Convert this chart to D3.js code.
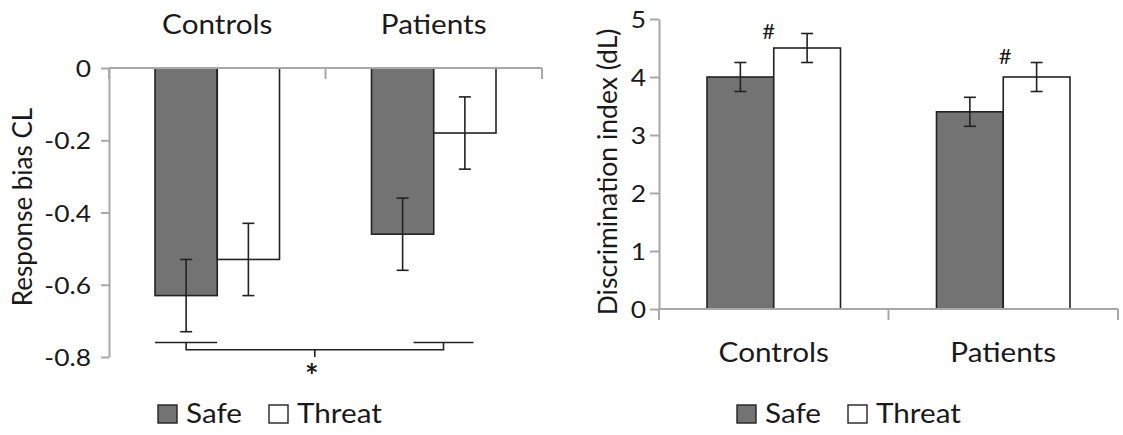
<!DOCTYPE html>
<html lang="en">
  <head>
    <meta charset="UTF-8" />
    <title>Response bias and discrimination index</title>
    <script src="https://cdn.jsdelivr.net/npm/d3@7"></script>
  </head>
  <body>
    <svg></svg>
    <style>
      body { margin: 0; background: #fff; }
      svg { display: block; }
      text { font-family: Lato, "Open Sans", sans-serif; fill: #1a1a1a; }
    </style>
    <script>
      // data
      const groups = ["Controls", "Patients"];
      const series = ["Safe", "Threat"];
      const biasSafe = [-0.63, -0.46];
      const biasThreat = [-0.53, -0.18];
      const biasErrSafe = [0.10, 0.10];
      const biasErrThreat = [0.10, 0.10];
      const biasTicks = [0, -0.2, -0.4, -0.6, -0.8];
      const dlSafe = [4.0, 3.4];
      const dlThreat = [4.5, 4.0];
      const dlErrSafe = [0.25, 0.25];
      const dlErrThreat = [0.25, 0.25];
      const dlTicks = [0, 1, 2, 3, 4, 5];
      const hashAt = [4.66, 4.22]; // "#" marks, in dL units
      const bracketAt = [-0.76, -0.78, -0.80]; // significance bracket levels

      const width = 1123, height = 435;
      const svg = d3.select("svg").attr("width", width).attr("height", height);
      const fillOf = { Safe: "#737373", Threat: "#ffffff" };
      const axisColor = "#a8a8a8";
      const ink = "#222";
      const widen = 1.1;

      function stretch(sel, k) {
        sel.each(function () {
          const len = this.getComputedTextLength();
          this.setAttribute("textLength", len * k);
          this.setAttribute("lengthAdjust", "spacingAndGlyphs");
        });
      }

      function rows(safe, threat, errS, errT) {
        return groups.flatMap((g, i) => [
          { g, s: "Safe", v: safe[i], e: errS[i] },
          { g, s: "Threat", v: threat[i], e: errT[i] },
        ]);
      }

      function panel(opt) {
        const { x, sub, y, data, ticks, axisY, tickLen, labelRight } = opt;
        const g = svg.append("g");

        // y axis
        const ya = g.append("g")
          .attr("transform", `translate(${x.range()[0]},0)`)
          .call(d3.axisLeft(y).tickValues(ticks).tickSize(tickLen).tickSizeOuter(0)
            .tickPadding(x.range()[0] - tickLen - labelRight).tickFormat(String));
        ya.select(".domain").attr("stroke", axisColor).attr("stroke-width", 2);
        ya.selectAll(".tick line").attr("stroke", axisColor).attr("stroke-width", 2);
        ya.selectAll(".tick text").attr("font-size", 24).attr("fill", "#1a1a1a")
          .style("font-family", "Lato, sans-serif").attr("dy", "0.36em");

        // bars
        g.selectAll("rect.bar").data(data).join("rect")
          .attr("class", "bar")
          .attr("x", d => x(d.g) + sub(d.s))
          .attr("width", sub.bandwidth())
          .attr("y", d => Math.min(y(d.v), y(0)))
          .attr("height", d => Math.abs(y(d.v) - y(0)))
          .attr("fill", d => fillOf[d.s])
          .attr("stroke", ink).attr("stroke-width", 1.6);

        // category axis
        const edges = groups.map(c => x(c)).concat(x.range()[1]);
        g.append("line")
          .attr("x1", x.range()[0]).attr("x2", x.range()[1])
          .attr("y1", y(axisY)).attr("y2", y(axisY))
          .attr("stroke", axisColor).attr("stroke-width", 2);
        g.selectAll("line.xt").data(edges).join("line")
          .attr("class", "xt")
          .attr("x1", d => d).attr("x2", d => d)
          .attr("y1", y(axisY)).attr("y2", y(axisY) + 11)
          .attr("stroke", axisColor).attr("stroke-width", 2);

        // error bars
        const cx = d => x(d.g) + sub(d.s) + sub.bandwidth() / 2;
        const eb = g.selectAll("g.err").data(data).join("g").attr("class", "err")
          .attr("stroke", ink).attr("stroke-width", 1.6);
        eb.append("line").attr("x1", cx).attr("x2", cx)
          .attr("y1", d => y(d.v - d.e)).attr("y2", d => y(d.v + d.e));
        [-1, 1].forEach(sign => {
          eb.append("line").attr("x1", d => cx(d) - 6).attr("x2", d => cx(d) + 6)
            .attr("y1", d => y(d.v + sign * d.e)).attr("y2", d => y(d.v + sign * d.e));
        });
        return g;
      }

      function legend(x0, yTop) {
        const lg = svg.append("g").attr("transform", `translate(${x0},${yTop})`);
        const offs = { Safe: 0, Threat: 111 };
        series.forEach(s => {
          lg.append("rect").attr("x", offs[s]).attr("y", 0)
            .attr("width", 19).attr("height", 18)
            .attr("fill", fillOf[s]).attr("stroke", ink).attr("stroke-width", 1.4);
          lg.append("text").attr("x", offs[s] + 28).attr("y", 18)
            .attr("font-size", 27).text(s);
        });
        stretch(lg.selectAll("text"), widen);
      }

      // ---- left: response bias
      const xL = d3.scaleBand().domain(groups).range([109, 542]);
      const subL = d3.scaleBand().domain(series).range([46, xL.bandwidth() - 46]);
      const yL = d3.scaleLinear().domain([-0.8, 0]).range([357, 68]);
      const left = panel({
        x: xL, sub: subL, y: yL, ticks: biasTicks, axisY: 0, tickLen: 8, labelRight: 91,
        data: rows(biasSafe, biasThreat, biasErrSafe, biasErrThreat),
      });

      left.selectAll("text.cat").data(groups).join("text")
        .attr("class", "cat")
        .attr("x", d => xL(d) + xL.bandwidth() / 2).attr("y", 34)
        .attr("text-anchor", "middle").attr("font-size", 27).text(d => d);

      left.append("text")
        .attr("transform", "translate(32,207) rotate(-90)")
        .attr("text-anchor", "middle").attr("font-size", 26)
        .text("Response bias CL");

      // significance bracket
      const pBand = xL("Patients");
      const safeL = xL("Controls") + subL("Safe");
      const midSafe = safeL + subL.bandwidth() / 2;
      const rightA = pBand + 88, rightB = pBand + 148, rightMid = (rightA + rightB) / 2;
      const br = left.append("g").attr("fill", "none").attr("stroke", ink).attr("stroke-width", 1.6);
      br.append("line").attr("x1", safeL).attr("x2", safeL + subL.bandwidth())
        .attr("y1", yL(bracketAt[0])).attr("y2", yL(bracketAt[0]));
      br.append("line").attr("x1", rightA).attr("x2", rightB)
        .attr("y1", yL(bracketAt[0])).attr("y2", yL(bracketAt[0]));
      br.append("path").attr("d",
        `M${midSafe},${yL(bracketAt[0])}V${yL(bracketAt[1])}H${rightMid}V${yL(bracketAt[0])}`);
      const midB = (midSafe + rightMid) / 2;
      br.append("line").attr("x1", midB).attr("x2", midB)
        .attr("y1", yL(bracketAt[1])).attr("y2", yL(bracketAt[2]));
      left.append("text").attr("x", midB - 3).attr("y", 388)
        .attr("text-anchor", "middle").attr("font-size", 32).attr("font-weight", "bold").text("*");

      legend(158, 405);

      // ---- right: discrimination index
      const xR = d3.scaleBand().domain(groups).range([659, 1118]);
      const subR = d3.scaleBand().domain(series).range([48, xR.bandwidth() - 48]);
      const yR = d3.scaleLinear().domain([0, 5]).range([309, 19]);
      const right = panel({
        x: xR, sub: subR, y: yR, ticks: dlTicks, axisY: 0, tickLen: 9, labelRight: 646,
        data: rows(dlSafe, dlThreat, dlErrSafe, dlErrThreat),
      });

      right.selectAll("text.cat").data(groups).join("text")
        .attr("class", "cat")
        .attr("x", d => xR(d) + xR.bandwidth() / 2).attr("y", 362)
        .attr("text-anchor", "middle").attr("font-size", 27).text(d => d);

      right.append("text")
        .attr("transform", "translate(617,172) rotate(-90)")
        .attr("text-anchor", "middle").attr("font-size", 26.5)
        .text("Discrimination index (dL)");

      right.selectAll("text.hash").data(groups).join("text")
        .attr("class", "hash")
        .attr("x", (d, i) => xR(d) + xR.bandwidth() / 2 + (i === 0 ? -5 : 2))
        .attr("y", (d, i) => yR(hashAt[i]))
        .attr("text-anchor", "middle").attr("font-size", 22).text("#");

      legend(737, 405);

      stretch(svg.selectAll("text.cat"), widen);
      stretch(svg.selectAll(".tick text"), widen);
    </script>
  </body>
</html>
